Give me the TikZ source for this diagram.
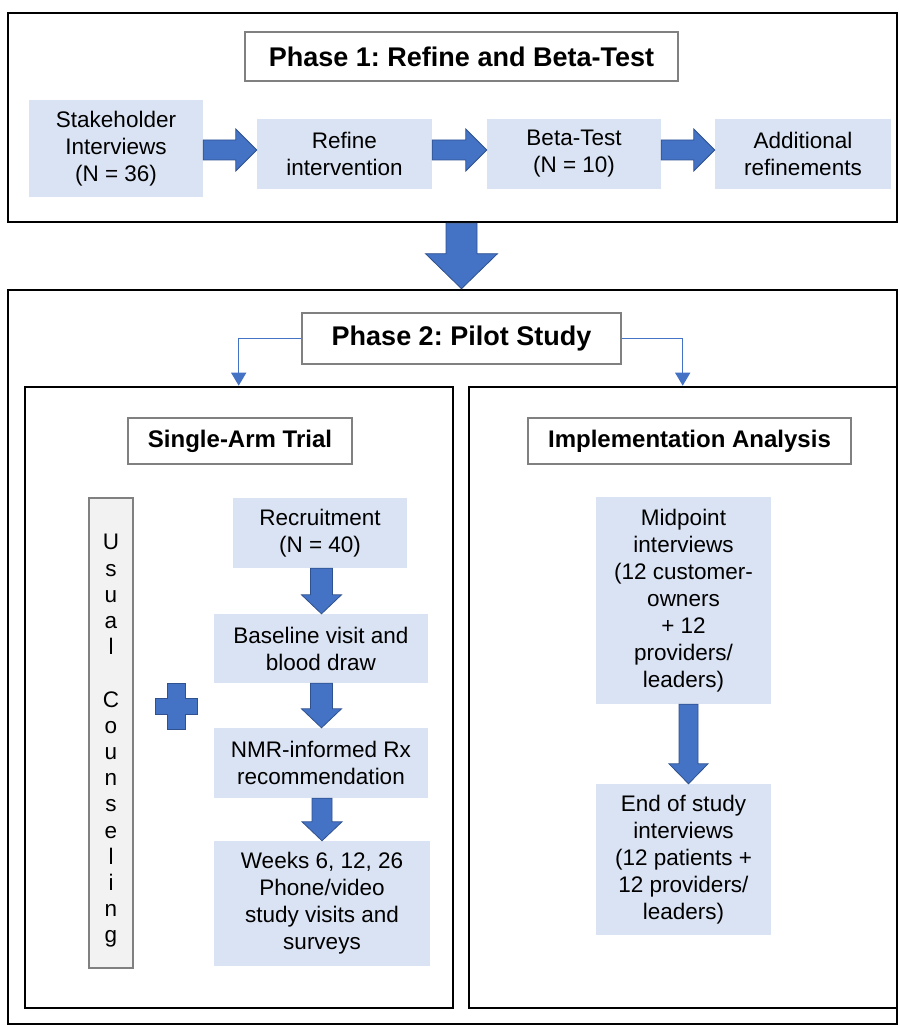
\documentclass[tikz,border=0pt]{standalone}
\usepackage{fontspec}
\setmainfont{Liberation Sans}
\usetikzlibrary{calc,arrows.meta}
\frenchspacing
\definecolor{boxblue}{HTML}{DAE3F3}
\definecolor{arrblue}{HTML}{4472C4}
\definecolor{arredge}{HTML}{2F528F}
\definecolor{titlegray}{HTML}{808080}
\definecolor{usualfill}{HTML}{F2F2F2}
\newcommand{\fnorm}{\fontsize{22.5}{27}\selectfont}
\newcommand{\ftitle}{\fontsize{27}{32}\selectfont\bfseries}
\newcommand{\fsub}{\fontsize{24}{29}\selectfont\bfseries}
\newcommand{\harr}[3]{%
  \filldraw[barrow] let \p1=(#1.east), \p2=(#2.west), \p3=(0,#3) in
   (\x1,\y3+10pt) -- (\x2-21pt,\y3+10pt) -- (\x2-21pt,\y3+21pt) -- (\x2,\y3)
   -- (\x2-21pt,\y3-21pt) -- (\x2-21pt,\y3-10pt) -- (\x1,\y3-10pt) -- cycle;}
\newcommand{\varr}[6]{%
  \filldraw[barrow] let \p1=(#1.south), \p2=(#2.north), \p3=(#3,0) in
   (\x3-#4pt,\y1) -- (\x3-#4pt,\y2+#6pt) -- (\x3-#5pt,\y2+#6pt) -- (\x3,\y2)
   -- (\x3+#5pt,\y2+#6pt) -- (\x3+#4pt,\y2+#6pt) -- (\x3+#4pt,\y1) -- cycle;}
\tikzset{
  bluebox/.style={fill=boxblue, inner sep=0pt, align=center, font=\fnorm},
  titlebox/.style={draw=titlegray, line width=1.2pt, fill=white, inner sep=0pt, align=center},
  frame/.style={draw=black, line width=2.6pt, inner sep=0pt},
  barrow/.style={fill=arrblue, draw=arredge, line width=0.8pt},
  thinarrow/.style={draw=arrblue, line width=1.5pt, -{Triangle[length=13pt,width=15pt]}}
}
\begin{document}
\begin{tikzpicture}[x=1pt,y=-1pt]
\useasboundingbox (0,0) rectangle (899,1027);
% frames
\node[frame, minimum width=889, minimum height=209] (ph1) at (452.5,117.5) {};
\node[frame, minimum width=889, minimum height=734] (ph2) at (452.5,657) {};
\node[frame, minimum width=428, minimum height=621] (inL) at (239,697.5) {};
\node[frame, minimum width=428, minimum height=621] (inR) at (683,697.5) {};
% titles
\node[titlebox, font=\ftitle, minimum width=433, minimum height=49] (t1) at (461.5,56.5) {Phase 1: Refine and Beta-Test};
\node[titlebox, font=\ftitle, minimum width=319, minimum height=51] (t2) at (461.5,338.5) {Phase 2: Pilot Study};
\node[titlebox, font=\fsub, minimum width=224, minimum height=46] (sat) at (240,441) {Single-Arm Trial};
\node[titlebox, font=\fsub, minimum width=323, minimum height=46] (ia) at (689.5,441) {Implementation Analysis};
% phase 1 boxes
\node[bluebox, minimum width=174, minimum height=97] (stake) at (116,148.5) {Stakeholder\\Interviews\\(N = 36)};
\node[bluebox, minimum width=175, minimum height=70] (refine) at (344.5,154) {Refine\\intervention};
\node[bluebox, minimum width=174, minimum height=70] (beta) at (574,154) {Beta-Test\\(N = 10)};
\node[bluebox, minimum width=176, minimum height=70] (addl) at (803,154) {Additional\\refinements};
\harr{stake}{refine}{150}
\harr{refine}{beta}{150}
\harr{beta}{addl}{150}
% big arrow
\varr{ph1}{ph2}{461.5}{15.5}{36}{35}
% thin arrows
\draw[thinarrow] (t2.west) -| ($(inL.north west)+(215,0)$);
\draw[thinarrow] (t2.east) -| ($(inR.north west)+(215,0)$);
% single-arm trial
\node[draw=titlegray, line width=1.2pt, fill=usualfill, minimum width=44, minimum height=470, inner sep=0pt] (usual) at (111,733) {};
\node[align=center, font=\fontsize{22.5}{26.2}\selectfont, inner sep=0pt] (usualtxt) at (111,741) {U\\s\\u\\a\\l\\\mbox{}\\C\\o\\u\\n\\s\\e\\l\\i\\n\\g};
\filldraw[barrow, shift={(176,706)}] (-9,-23) -- (9,-23) -- (9,-8) -- (21,-8) -- (21,8) -- (9,8) -- (9,23) -- (-9,23) -- (-9,8) -- (-21,8) -- (-21,-8) -- (-9,-8) -- cycle;
\node[bluebox, minimum width=174, minimum height=70] (recr) at (320,533) {Recruitment\\(N = 40)};
\node[bluebox, minimum width=214, minimum height=69] (base) at (321,648.5) {Baseline visit and\\blood draw};
\node[bluebox, minimum width=214, minimum height=70] (nmr) at (321,763) {NMR-informed Rx\\recommendation};
\node[bluebox, minimum width=216, minimum height=125] (weeks) at (322,903.5) {Weeks 6, 12, 26\\Phone/video\\study visits and\\surveys};
\varr{recr}{base}{321.5}{11}{20}{19}
\varr{base}{nmr}{321.5}{11}{20}{19}
\varr{nmr}{weeks}{322}{10}{20}{19}
% implementation analysis
\node[bluebox, minimum width=175, minimum height=207] (mid) at (683.5,600.5) {Midpoint\\interviews\\(12 customer-\\owners\\+ 12\\providers/\\leaders)};
\node[bluebox, minimum width=175, minimum height=151] (endst) at (683.5,859.5) {End of study\\interviews\\(12 patients +\\12 providers/\\leaders)};
\varr{mid}{endst}{688.5}{9.5}{19.5}{20}
\end{tikzpicture}
\end{document}
